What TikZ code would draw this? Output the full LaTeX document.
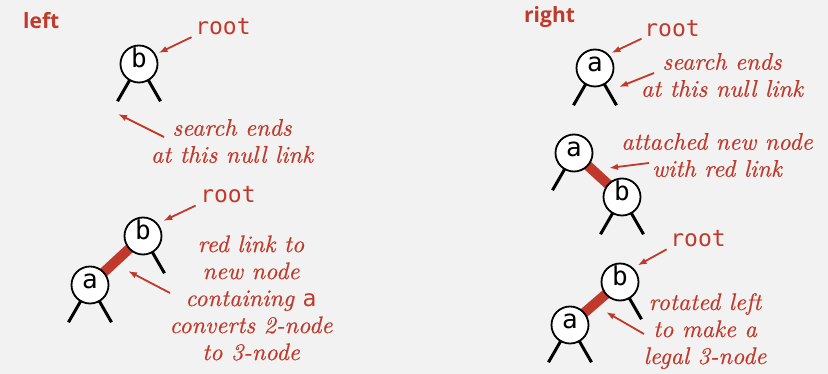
\documentclass[tikz,border=0pt]{standalone}
\usepackage{fontspec}
\setsansfont{Open Sans}
\setmonofont{DejaVu Sans Mono}
\newfontfamily\notefont{lmroman10-italic.otf}[FakeBold=0.5]
\usetikzlibrary{arrows.meta}
\definecolor{algred}{RGB}{192,57,43}
\definecolor{bggray}{RGB}{242,242,242}
\pgfdeclarelayer{bg}
\pgfdeclarelayer{links}
\pgfsetlayers{bg,links,main}

\begin{document}
\begin{tikzpicture}[x=1pt,y=-1pt,
    nd/.style={draw,circle,fill=white,line width=1.8pt,minimum size=37pt,inner sep=0pt,
      text height=0.8em,text depth=0pt,font=\fontsize{26}{26}\selectfont\ttfamily},
    nul/.style={line width=3pt},
    redlink/.style={algred,line width=10pt},
    ptr/.style={algred,line width=1.8pt,-{Latex[length=9pt,width=6.5pt]}},
    lbl/.style={algred,align=center,inner sep=0pt,font=\fontsize{24}{27}\selectfont\notefont},
    key/.style={algred,inner sep=0pt,font=\fontsize{23}{23}\selectfont\ttfamily},
    hdr/.style={algred,inner sep=0pt,anchor=base west,font=\fontsize{21}{21}\selectfont\sffamily\bfseries}]
    \begin{pgfonlayer}{bg}
        \fill[bggray] (0,0) rectangle (828,374);
    \end{pgfonlayer}
    \useasboundingbox (0,0) rectangle (828,374);

    % left: insert a into b
    \node[hdr] (hl) at (23,29) {left};
    \node[nd] (b1) at (139,64)  {b};
    \node[nd] (b2) at (143,236) {b};
    \node[nd] (a2) at (90,285)  {a};
    \node[key] (r1) at (223,27)  {root};
    \node[key] (r2) at (228,195) {root};
    \node[lbl] (s1) at (232,141) {search ends\\at this null link};
    \node[lbl] (s2) at (251,298) {red link to\\new node\\containing {\fontsize{23}{27}\selectfont\ttfamily a}\\converts 2-node\\to 3-node};

    % right: insert b into a
    \node[hdr] (hr) at (524,23) {right};
    \node[nd] (a3) at (595,68)  {a};
    \node[nd] (a4) at (574,153) {a};
    \node[nd] (b4) at (622,197) {b};
    \node[nd] (b5) at (620,282) {b};
    \node[nd] (a5) at (570,325) {a};
    \node[key] (r3) at (672,29)  {root};
    \node[key] (r4) at (698,239) {root};
    \node[lbl] (s3) at (722,75)  {search ends\\at this null link};
    \node[lbl] (s4) at (717,155) {attached new node\\with red link};
    \node[lbl] (s5) at (705,331) {rotated left\\to make a\\legal 3-node};

    \begin{pgfonlayer}{links}
        \foreach \from/\to in {b2/a2,a4/b4,b5/a5}
            \draw[redlink] (\from.center) -- (\to.center);
        \foreach \n/\a in {b1/-120,b1/-60,b2/-60,a2/-120,a2/-60,a3/-120,a3/-60,
                           a4/-120,b4/-120,b4/-60,b5/-60,a5/-120,a5/-60}
            \draw[nul] (\n.center) -- ++(\a:43pt);
    \end{pgfonlayer}

    % pointers
    \coordinate (t1) at (164,137); \coordinate (h1) at (118,114);
    \coordinate (t2) at (170,293); \coordinate (h2) at (128,271);
    \coordinate (t3) at (654,73);  \coordinate (h3) at (619,87);
    \coordinate (t4) at (649,163); \coordinate (h4) at (609,168);
    \coordinate (t5) at (644,334); \coordinate (h5) at (606,312);
    \draw[ptr,shorten <=4pt,shorten >=3pt] (r1.south west) -- (b1.30);
    \draw[ptr,shorten <=5pt,shorten >=6pt] (r2.south west) -- (b2.40);
    \draw[ptr,shorten <=3pt,shorten >=3pt] (r3.south west) -- (a3.45);
    \draw[ptr,shorten <=4pt,shorten >=5pt] (r4.south west) -- (b5.47);
    \foreach \from/\to in {t1/h1,t2/h2,t3/h3,t4/h4,t5/h5}
        \draw[ptr] (\from) -- (\to);
\end{tikzpicture}
\end{document}
